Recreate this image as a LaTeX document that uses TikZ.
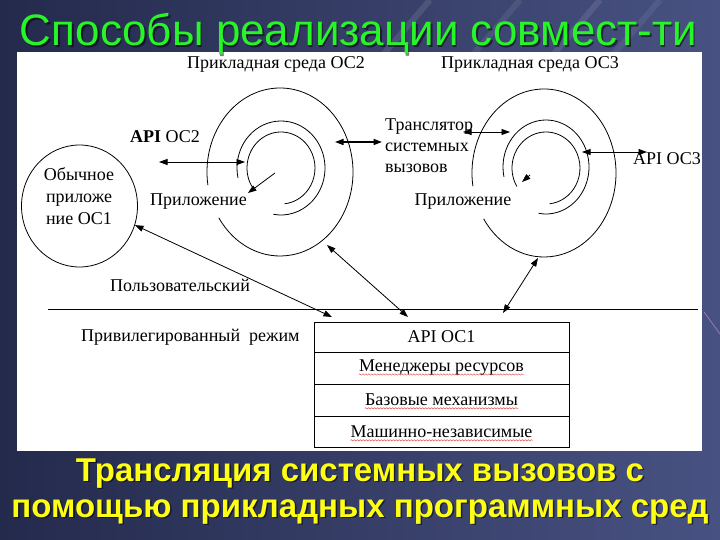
\documentclass[tikz,border=0pt]{standalone}
\usepackage{fontspec}
\setmainfont{Liberation Serif}
\newfontfamily\arialf{Liberation Sans}
\usetikzlibrary{arrows.meta,decorations.pathmorphing,shapes.geometric}
\definecolor{bgdark}{RGB}{36,42,76}
\definecolor{bglight}{RGB}{72,82,130}
\definecolor{titlegreen}{RGB}{40,245,40}
\definecolor{subyellow}{RGB}{255,255,20}
\definecolor{squig}{RGB}{220,60,60}
\definecolor{streak}{RGB}{200,150,200}
\begin{document}
\begin{tikzpicture}[x=1pt,y=-1pt,
  lbl/.style={font=\fontsize{18}{22}\selectfont, inner sep=0pt},
  tip/.tip={Triangle[length=8.5pt,width=6pt]},
  dbl/.style={line width=0.8pt, tip-tip},
  sgl/.style={line width=0.8pt, -tip},
  ring/.style={line width=0.8pt},
  rowbox/.style={draw, line width=0.8pt, minimum width=255pt, inner sep=0pt},
  wavy/.style={draw=squig, line width=0.4pt, decorate,
    decoration={snake, segment length=3pt, amplitude=0.7pt}}]
\useasboundingbox (0,0) rectangle (720,540);
% background
\shade[left color=bgdark, right color=bglight] (0,0) rectangle (720,540);
\foreach \a/\b/\o in {430/0/0.10, 520/0/0.08, 600/0/0.10, 660/0/0.07, 700/60/0.08}{
  \draw[white, opacity=\o, line width=6pt] (\a,\b) -- ++(-120,140);
}
\draw[streak, opacity=0.6, line width=0.8pt] (704,312) -- (720,334);
% white panel
\fill[white] (17,52) rectangle (702,451);

% title
\node[font=\arialf\fontsize{44}{48}\selectfont, text=black, opacity=0.5, anchor=base, inner sep=0pt] at (360,47.5) {Способы реализации совмест-ти};
\node[font=\arialf\fontsize{44}{48}\selectfont, text=titlegreen, anchor=base, inner sep=0pt] (title) at (358.5,46) {Способы реализации совмест-ти};

% top labels
\node[lbl] (env2) at (276,64) {Прикладная среда ОС2};
\node[lbl] (env3) at (530,64) {Прикладная среда ОС3};

% left ordinary application
\node[draw, ellipse, line width=0.8pt, minimum width=116pt, minimum height=122pt, inner sep=0pt] (app1) at (79.5,206) {};
\node[lbl, align=center, font=\fontsize{18}{22}\selectfont] (app1t) at (79,196) {Обычное\\приложе\\ние ОС1};

% spiral OC2
\draw[ring, shift={(280,172)}] (171:73 and 84) arc[start angle=171, end angle=507, x radius=73, y radius=84];
\draw[ring, shift={(281,168)}] (168:44 and 47) arc[start angle=168, end angle=460, x radius=44, y radius=47];
\draw[ring, shift={(281,168)}] (149:34 and 36) arc[start angle=149, end angle=444, x radius=34, y radius=36];
% spiral OC3
\draw[ring, shift={(544,173)}] (171:72 and 84) arc[start angle=171, end angle=507, x radius=72, y radius=84];
\draw[ring, shift={(546,167)}] (168:43 and 47) arc[start angle=168, end angle=460, x radius=43, y radius=47];
\draw[ring, shift={(546,168)}] (149:34 and 36) arc[start angle=149, end angle=444, x radius=34, y radius=36];

% labels around spirals
\node[lbl, anchor=west] (api2) at (130,137) {\textbf{API} ОС2};
\node[lbl, anchor=east] (prog2) at (247,202) {Приложение};
\node[lbl, anchor=west, align=left, font=\fontsize{18}{21}\selectfont] (trans) at (385,146) {Транслятор\\системных\\вызовов};
\node[lbl] (prog3) at (463,202) {Приложение};
\node[lbl, anchor=west] (api3) at (633,159) {API ОС3};
\node[lbl, anchor=west] (user) at (110,285) {Пользовательский};
\node[lbl, anchor=west] (priv) at (81,337) {Привилегированный\ \ режим};

% mode separator
\coordinate (sepL) at (48,309);
\coordinate (sepR) at (698,309);
\draw[line width=0.8pt] (sepL) -- (sepR);

% kernel box
\node[rowbox, minimum height=30pt] (r1) at (441.5,337) {};
\node[rowbox, minimum height=32pt] (r2) at (441.5,368) {};
\node[rowbox, minimum height=32pt] (r3) at (441.5,400) {};
\node[rowbox, minimum height=31pt] (r4) at (441.5,431.5) {};
\node[lbl] (t1) at (r1) {API ОС1};
\node[lbl] (t2) at (441.5,368) {Менеджеры ресурсов};
\node[lbl] (t3) at (441.5,400) {Базовые механизмы};
\node[lbl] (t4) at (441.5,432) {Машинно-независимые};
\foreach \t in {t2,t3,t4}{
  \draw[wavy] ([yshift=-2.5pt]\t.base west) -- ([yshift=-2.5pt]\t.base east);
}

% arrow end points
\coordinate (a2L) at (159,162);
\coordinate (a2R) at (245,162);
\coordinate (s2a) at (275,173);
\coordinate (s2b) at (248,193);
\coordinate (tr2a) at (335,142);
\coordinate (tr2b) at (382,142);
\coordinate (tr3a) at (463,132);
\coordinate (tr3b) at (510,132);
\coordinate (s3a) at (530,175);
\coordinate (s3b) at (522,182);
\coordinate (a3L) at (582,152);
\coordinate (a3R) at (647,152);
\coordinate (b3top) at (538,258);
\coordinate (b3bot) at (503,313);
\coordinate (b2top) at (327,245);
\coordinate (b2bot) at (408,317);
\coordinate (c1top) at (app1.-19);
\coordinate (c1bot) at (332,317);

\draw[dbl] (a2L) -- (a2R);
\draw[sgl] (s2a) -- (s2b);
\draw[dbl, line width=1.6pt] (tr2a) -- (tr2b);
\draw[dbl] (tr3a) -- (tr3b);
\draw[sgl] (s3a) -- (s3b);
\draw[dbl] (a3L) -- (a3R);
\draw[dbl] (b3top) -- (b3bot);
\draw[dbl] (b2top) -- (b2bot);
\draw[dbl] (c1top) -- (c1bot);

% subtitle
\foreach \dx/\col/\op in {1.5/black/0.55, 0/subyellow/1}{
  \node[font=\arialf\bfseries\fontsize{33}{36}\selectfont, text=\col, opacity=\op, anchor=base, inner sep=0pt] at (360+\dx,481+\dx) {Трансляция системных вызовов с};
  \node[font=\arialf\bfseries\fontsize{33}{36}\selectfont, text=\col, opacity=\op, anchor=base, inner sep=0pt] at (360+\dx,517+\dx) {помощью прикладных программных сред};
}
\end{tikzpicture}
\end{document}
